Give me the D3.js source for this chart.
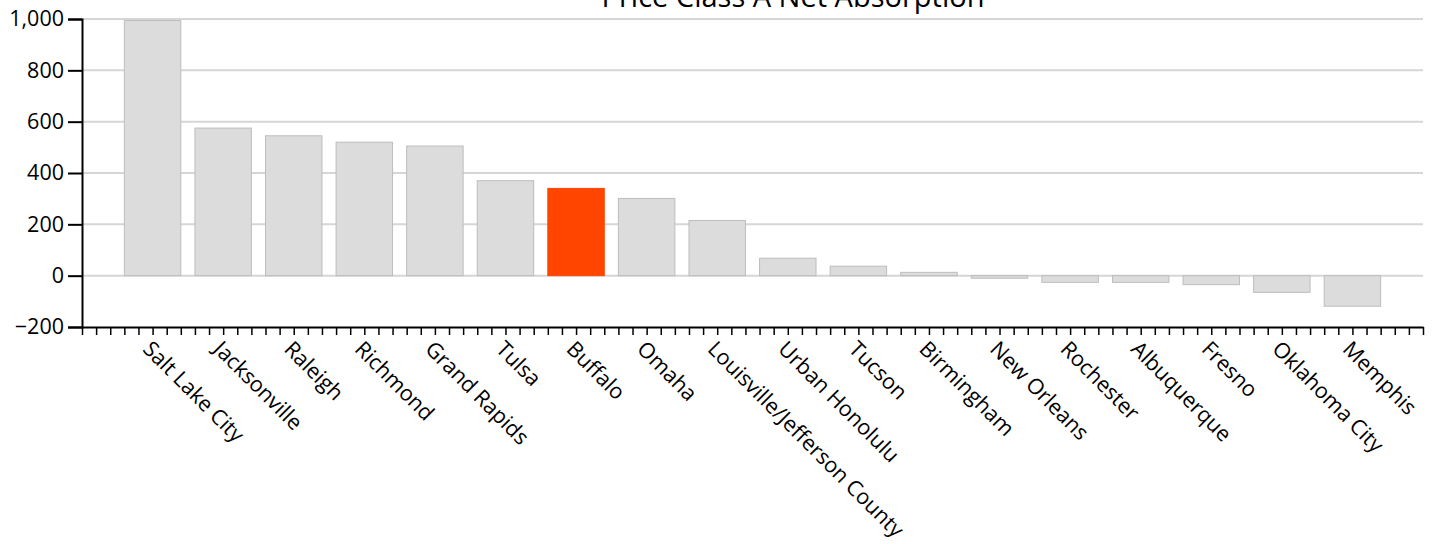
<!DOCTYPE html>
<html><head><meta charset="utf-8">
<script src="https://cdn.jsdelivr.net/npm/d3@7"></script>
<style>
body{margin:0;background:#fff;}
text{font-family:"Open Sans",sans-serif;}
</style></head>
<body><svg id="c" width="1434" height="544"></svg>
<script>
const categories = ["Salt Lake City","Jacksonville","Raleigh","Richmond","Grand Rapids","Tulsa","Buffalo","Omaha","Louisville/Jefferson County","Urban Honolulu","Tucson","Birmingham","New Orleans","Rochester","Albuquerque","Fresno","Oklahoma City","Memphis"];
const values = [994,575,545,520,505,370,340,301,215,68,37,13,-10,-26,-26,-35,-65,-119];
const highlight = "Buffalo";
const yTicks = [-200,0,200,400,600,800,1000];
const title = "Price Class A Net Absorption";

const svg = d3.select("#c");
const x = d3.scaleLinear().domain([0, categories.length + 1]).range([82, 1423]);
const y = d3.scaleLinear().domain([-200, 1000]).range([327, 19]);
const step = x(1) - x(0);
const bw = step * 0.8;

// gridlines
svg.append("g").selectAll("line").data(yTicks.filter(d => d > -200)).join("line")
  .attr("x1", x(0)).attr("x2", x(categories.length + 1))
  .attr("y1", d => y(d)).attr("y2", d => y(d))
  .attr("stroke", "#d6d6d6").attr("stroke-width", 2);

// bars
svg.append("g").selectAll("rect").data(categories).join("rect")
  .attr("x", (d, i) => x(i + 1) - bw / 2)
  .attr("width", bw)
  .attr("y", (d, i) => y(Math.max(0, values[i])))
  .attr("height", (d, i) => Math.abs(y(values[i]) - y(0)))
  .attr("fill", d => d === highlight ? "#ff4500" : "#dcdcdc")
  .attr("stroke", d => d === highlight ? "#ff4500" : "#bdbdbd")
  .attr("stroke-width", 1);

// y axis
const ya = svg.append("g").attr("transform", `translate(${x(0)},0)`)
  .call(d3.axisLeft(y).tickValues(yTicks).tickSize(14).tickPadding(4).tickFormat(d3.format(",")));
ya.select(".domain").attr("stroke", "#000").attr("stroke-width", 2);
ya.selectAll(".tick line").attr("stroke", "#000").attr("stroke-width", 2);
ya.selectAll("text").attr("font-size", 21.5).attr("fill", "#000").attr("font-family", "Open Sans");

// x axis
const xt = d3.range(0, (categories.length + 1) * 5 + 1).map(i => i / 5);
const xa = svg.append("g").attr("transform", `translate(0,${y(-200)})`)
  .call(d3.axisBottom(x).tickValues(xt).tickSize(8).tickSizeOuter(0)
    .tickFormat(d => (Number.isInteger(d) && d >= 1 && d <= categories.length) ? categories[d - 1] : ""));
xa.select(".domain").attr("stroke", "#000").attr("stroke-width", 2);
xa.selectAll(".tick line").attr("stroke", "#000").attr("stroke-width", 1.5);
xa.selectAll(".tick text")
  .attr("font-size", 21.5).attr("fill", "#000").attr("font-family", "Open Sans")
  .attr("text-anchor", "start").attr("y", 0).attr("dy", "0.35em")
  .attr("transform", "translate(-6,18) rotate(45)");

// title
svg.append("text").attr("x", 793).attr("y", 7).attr("text-anchor", "middle")
  .attr("font-size", 29).attr("fill", "#000").text(title);
</script></body></html>
